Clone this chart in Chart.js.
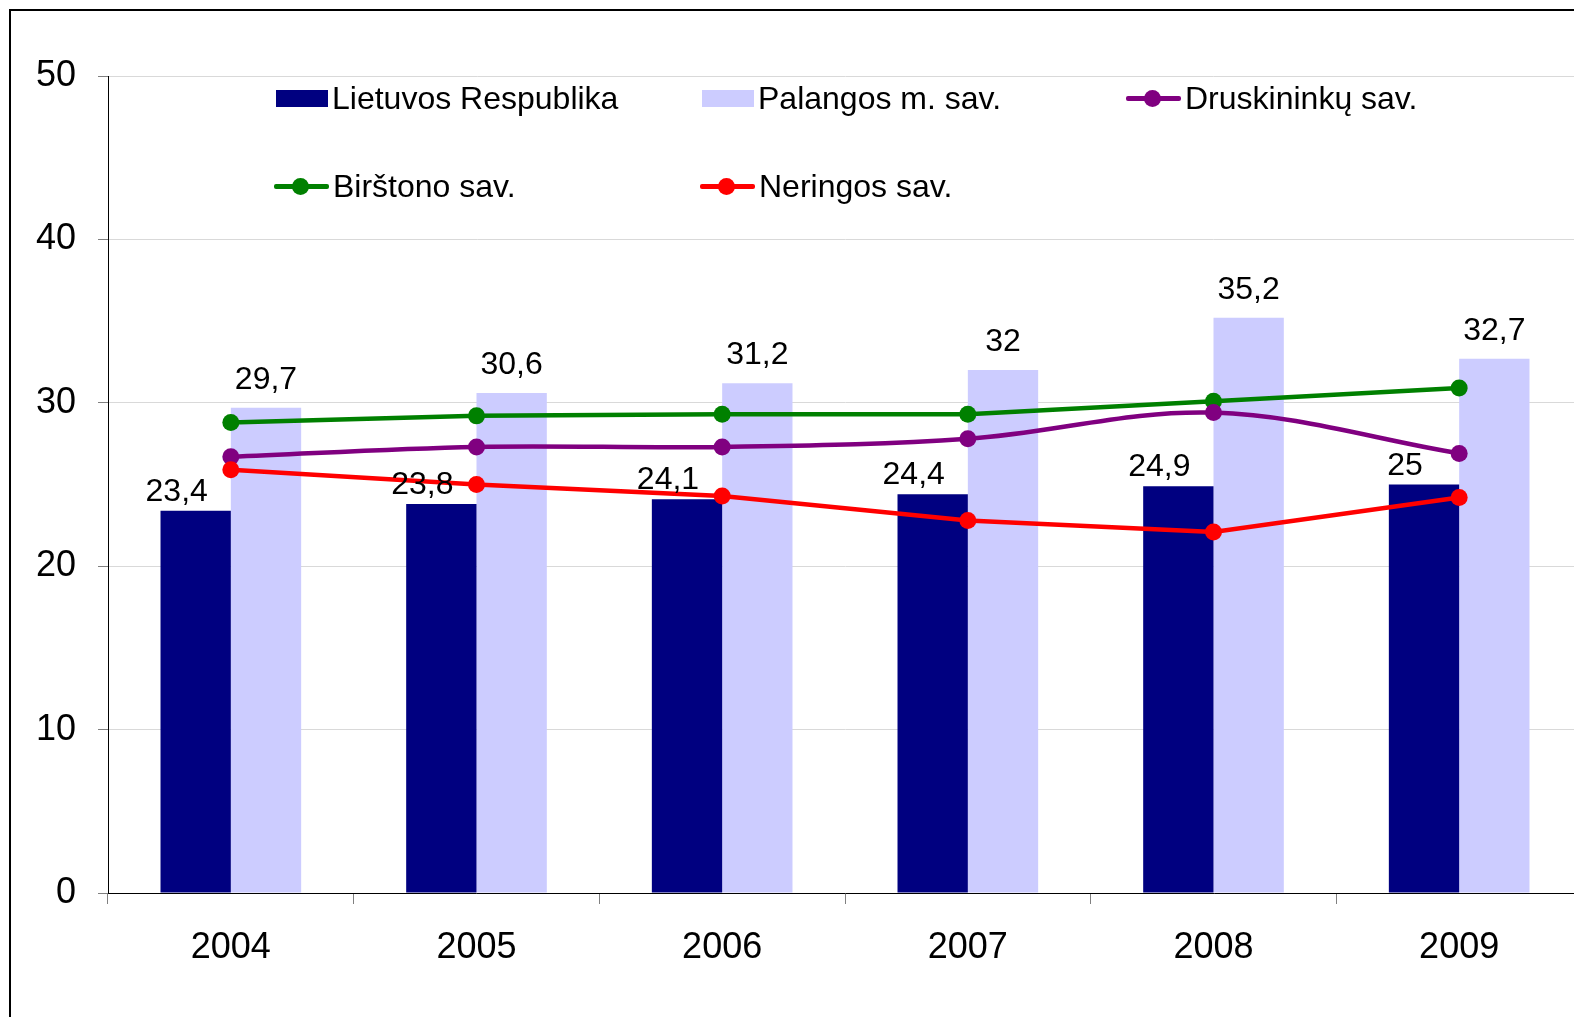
<!DOCTYPE html>
<html>
<head>
<meta charset="utf-8">
<title>Chart</title>
<script src="https://cdn.jsdelivr.net/npm/chart.js@4/dist/chart.umd.min.js"></script>
<style>
    html, body {
        margin: 0;
        padding: 0;
        width: 1574px;
        height: 1017px;
        overflow: hidden;
        background: #fff;
        font-family: "Liberation Sans", Arial, sans-serif;
    }
    #frame {
        position: absolute;
        left: 9px;
        top: 9px;
        width: 1640px;
        height: 1100px;
        border: 2px solid #000;
        box-sizing: border-box;
    }
    #chart {
        position: absolute;
        left: 0;
        top: 0;
    }
    .legend-item {
        position: absolute;
        height: 36px;
        display: flex;
        align-items: center;
        font-size: 32px;
        color: #000;
        white-space: nowrap;
    }
    .mk {
        position: relative;
        width: 53px;
        height: 17px;
        margin-right: 4px;
    }
    .mk .ln {
        position: absolute;
        left: 0;
        right: 0;
        top: 6px;
        height: 5px;
        border-radius: 2px;
    }
    .mk .dot {
        position: absolute;
        left: 18px;
        top: 0;
        width: 17px;
        height: 17px;
        border-radius: 50%;
    }
</style>
</head>
<body>
<div id="frame"></div>
<canvas id="chart" width="1600" height="1017"></canvas>
<div id="legend"></div>

<script>
// Values
const years = ['2004', '2005', '2006', '2007', '2008', '2009'];
const lietuvos = [23.4, 23.8, 24.1, 24.4, 24.9, 25];
const palanga = [29.7, 30.6, 31.2, 32, 35.2, 32.7];
const druskininkai = [26.7, 27.3, 27.3, 27.8, 29.4, 26.9];
const birstonas = [28.8, 29.2, 29.3, 29.3, 30.1, 30.9];
const neringa = [25.9, 25.0, 24.3, 22.8, 22.1, 24.2];
const yTicks = [0, 10, 20, 30, 40, 50];

const FONT = '"Liberation Sans", Arial, sans-serif';

// Comma as decimal separator, like the original
function fmt(v) {
    return String(v).replace('.', ',');
}

// Value labels above the bars
const barLabels = {
    id: 'barLabels',
    afterDatasetsDraw(chart) {
        const ctx = chart.ctx;
        ctx.save();
        ctx.font = '32px ' + FONT;
        ctx.fillStyle = '#000';
        ctx.textAlign = 'center';
        ctx.textBaseline = 'alphabetic';
        chart.data.datasets.forEach((ds, i) => {
            if (ds.type !== 'bar') return;
            const meta = chart.getDatasetMeta(i);
            meta.data.forEach((bar, j) => {
                ctx.fillText(fmt(ds.data[j]), bar.x + ds.labelDx, bar.y - ds.labelGap);
            });
        });
        ctx.restore();
    }
};

const datasets = [
    {
        type: 'bar',
        label: 'Lietuvos Respublika',
        data: lietuvos,
        backgroundColor: '#000080',
        order: 10,
        labelDx: -19,
        labelGap: 10
    },
    {
        type: 'bar',
        label: 'Palangos m. sav.',
        data: palanga,
        backgroundColor: '#CCCCFF',
        order: 11,
        labelDx: 0,
        labelGap: 19
    },
    {
        type: 'line',
        label: 'Druskininkų sav.',
        data: druskininkai,
        borderColor: '#800080',
        backgroundColor: '#800080',
        tension: 0.35,
        order: 2
    },
    {
        type: 'line',
        label: 'Birštono sav.',
        data: birstonas,
        borderColor: '#008000',
        backgroundColor: '#008000',
        tension: 0,
        order: 3
    },
    {
        type: 'line',
        label: 'Neringos sav.',
        data: neringa,
        borderColor: '#FF0000',
        backgroundColor: '#FF0000',
        tension: 0,
        order: 1
    }
];

datasets.forEach(ds => {
    if (ds.type === 'line') {
        ds.borderWidth = 4.5;
        ds.pointRadius = 8.5;
        ds.pointHoverRadius = 8.5;
        ds.pointBorderWidth = 0;
        ds.pointBackgroundColor = ds.borderColor;
        ds.fill = false;
    } else {
        ds.borderWidth = 0;
        ds.categoryPercentage = 0.5725;
        ds.barPercentage = 1.0;
    }
});

new Chart(document.getElementById('chart'), {
    type: 'bar',
    data: {
        labels: years,
        datasets: datasets
    },
    options: {
        responsive: false,
        devicePixelRatio: 1,
        animation: false,
        layout: {
            padding: { left: 0, top: 76, right: 18, bottom: 0 }
        },
        plugins: {
            legend: { display: false },
            tooltip: { enabled: false }
        },
        scales: {
            x: {
                offset: true,
                grid: {
                    offset: true,
                    drawOnChartArea: false,
                    drawTicks: true,
                    tickLength: 11,
                    tickColor: '#808080'
                },
                border: { color: '#000', width: 1 },
                ticks: {
                    color: '#000',
                    font: { family: FONT, size: 36 },
                    padding: 22,
                    maxRotation: 0
                },
                afterFit(scale) {
                    scale.height = 124;
                }
            },
            y: {
                min: 0,
                max: 50,
                afterBuildTicks(scale) {
                    scale.ticks = yTicks.map(v => ({ value: v }));
                },
                grid: {
                    color: '#D9D9D9',
                    lineWidth: 1,
                    drawTicks: true,
                    tickLength: 10,
                    tickColor: '#808080'
                },
                border: { color: '#000', width: 1 },
                ticks: {
                    color: '#000',
                    font: { family: FONT, size: 36 },
                    padding: 22
                },
                afterFit(scale) {
                    scale.width = 108;
                }
            }
        }
    },
    plugins: [barLabels]
});

// Legend, laid out like the original: two rows inside the plot
const legendSlots = [
    { x: 276, y: 98 },
    { x: 702, y: 98 },
    { x: 1126, y: 98 },
    { x: 274, y: 186 },
    { x: 700, y: 186 }
];
const legendOrder = [0, 1, 2, 3, 4];

const legendBox = document.getElementById('legend');
legendOrder.forEach((dsIndex, k) => {
    const ds = datasets[dsIndex];
    const slot = legendSlots[k];
    const item = document.createElement('div');
    item.className = 'legend-item';
    item.style.left = slot.x + 'px';
    item.style.top = (slot.y - 18) + 'px';

    const mk = document.createElement('div');
    mk.className = 'mk';
    if (ds.type === 'bar') {
        mk.style.width = '52px';
        mk.style.background = ds.backgroundColor;
    } else {
        mk.style.width = '55px';
        const ln = document.createElement('div');
        ln.className = 'ln';
        ln.style.background = ds.borderColor;
        const dot = document.createElement('div');
        dot.className = 'dot';
        dot.style.background = ds.borderColor;
        mk.appendChild(ln);
        mk.appendChild(dot);
    }
    const txt = document.createElement('span');
    txt.textContent = ds.label;

    item.appendChild(mk);
    item.appendChild(txt);
    legendBox.appendChild(item);
});
</script>
</body>
</html>
